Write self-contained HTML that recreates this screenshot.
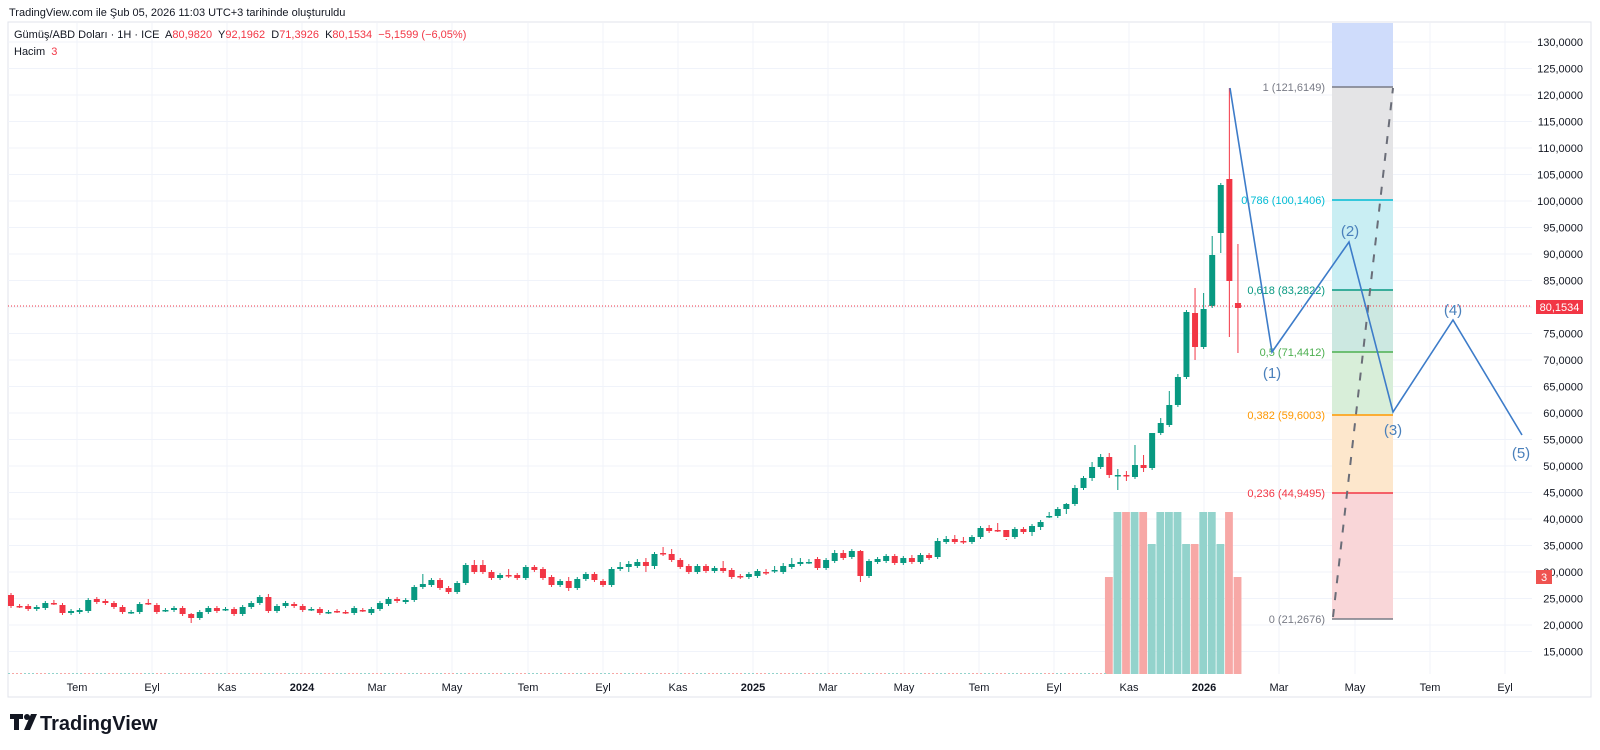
<!DOCTYPE html>
<html><head><meta charset="utf-8"><style>
html,body{margin:0;padding:0;background:#fff;width:1600px;height:750px;overflow:hidden}
svg{display:block;font-family:"Liberation Sans",sans-serif}
.pre{white-space:pre}
</style></head><body>
<svg id="s" width="1600" height="750" viewBox="0 0 1600 750" xmlns="http://www.w3.org/2000/svg">
<rect width="1600" height="750" fill="#fff"/>
<text x="9" y="16" font-size="11" fill="#131722">TradingView.com ile Şub 05, 2026 11:03 UTC+3 tarihinde oluşturuldu</text>
<rect x="8" y="22" width="1583" height="675" fill="#fff" stroke="#e0e3eb"/>
<g id="grid"></g>
<rect x="1332" y="23" width="61" height="64" fill="#cfdcfb"/>
<rect x="1332" y="87" width="61" height="113" fill="#e4e4e6"/>
<rect x="1332" y="200" width="61" height="90" fill="#c9eef3"/>
<rect x="1332" y="290" width="61" height="62" fill="#cce8e1"/>
<rect x="1332" y="352" width="61" height="63" fill="#d8eed9"/>
<rect x="1332" y="415" width="61" height="78" fill="#fde7cc"/>
<rect x="1332" y="493" width="61" height="126" fill="#f9d6d8"/>
<line x1="1332" y1="87" x2="1393" y2="87" stroke="#787b86" stroke-width="1.5"/>
<line x1="1332" y1="200" x2="1393" y2="200" stroke="#00bcd4" stroke-width="1.5"/>
<line x1="1332" y1="290" x2="1393" y2="290" stroke="#089981" stroke-width="1.5"/>
<line x1="1332" y1="352" x2="1393" y2="352" stroke="#4caf50" stroke-width="1.5"/>
<line x1="1332" y1="415" x2="1393" y2="415" stroke="#ff9800" stroke-width="1.5"/>
<line x1="1332" y1="493" x2="1393" y2="493" stroke="#f23645" stroke-width="1.5"/>
<line x1="1332" y1="619" x2="1393" y2="619" stroke="#787b86" stroke-width="1.5"/>
<g font-size="11" text-anchor="end">
<text x="1325" y="91" fill="#787b86">1 (121,6149)</text>
<text x="1325" y="204" fill="#00bcd4">0,786 (100,1406)</text>
<text x="1325" y="294" fill="#089981">0,618 (83,2822)</text>
<text x="1325" y="356" fill="#4caf50">0,5 (71,4412)</text>
<text x="1325" y="419" fill="#ff9800">0,382 (59,6003)</text>
<text x="1325" y="497" fill="#f23645">0,236 (44,9495)</text>
<text x="1325" y="623" fill="#787b86">0 (21,2676)</text>
</g>
<line x1="1333" y1="617" x2="1393" y2="88" stroke="#6a6d78" stroke-width="2" stroke-dasharray="8,9"/>
<g id="vol"></g>
<g id="cdl"></g>
<line x1="8" y1="306" x2="1532" y2="306" stroke="#f23645" stroke-width="1" stroke-dasharray="1,2"/>
<polyline points="1230,88 1272,352 1349,242 1393,412 1453,320 1522,435" fill="none" stroke="#3d7cc9" stroke-width="1.6"/>
<g font-size="15" fill="#4a80bb" text-anchor="middle">
<text x="1272" y="378">(1)</text>
<text x="1350" y="236">(2)</text>
<text x="1393" y="435">(3)</text>
<text x="1453" y="315">(4)</text>
<text x="1521" y="458">(5)</text>
</g>
<g id="axis" font-size="11" fill="#131722"></g>
<rect x="1536" y="300" width="47" height="14" fill="#f23645"/>
<text x="1559.5" y="311" font-size="11" fill="#fff" text-anchor="middle">80,1534</text>
<rect x="1536" y="570" width="16" height="14" fill="#ef5350"/>
<text x="1544" y="581" font-size="11" fill="#fff" text-anchor="middle">3</text>
<text class="pre" x="14" y="38" font-size="11" fill="#131722">Gümüş/ABD Doları · 1H · ICE  A<tspan fill="#f23645">80,9820</tspan>  Y<tspan fill="#f23645">92,1962</tspan>  D<tspan fill="#f23645">71,3926</tspan>  K<tspan fill="#f23645">80,1534</tspan>  <tspan fill="#f23645">−5,1599 (−6,05%)</tspan></text>
<text class="pre" x="14" y="55" font-size="11" fill="#131722">Hacim  <tspan fill="#f23645">3</tspan></text>
<g transform="translate(10,714)">
<path d="M0 0h13v5h-4v11h-5v-11h-4z" fill="#131722"/>
<circle cx="17" cy="3" r="3" fill="#131722"/>
<path d="M21 0h6l-7 16h-6z" fill="#131722"/>
<text x="30" y="16" font-size="20" font-weight="bold" fill="#131722">TradingView</text>
</g>
</svg>
<script>
var NS="http://www.w3.org/2000/svg";
function el(p,t,a){var e=document.createElementNS(NS,t);for(var k in a)e.setAttribute(k,a[k]);p.appendChild(e);return e;}
function Y(p){return 625-(p-20)*5.3;}
var grid=document.getElementById('grid'),axis=document.getElementById('axis');
for(var p=15;p<=130;p+=5){var y=Y(p);el(grid,'line',{x1:8,x2:1532,y1:y,y2:y,stroke:'#f0f3fa'});
var t=el(axis,'text',{x:1583,y:y+4,'text-anchor':'end'});t.textContent=p+',0000';}
var months=[['Tem',77],['Eyl',152],['Kas',227],['2024',302,1],['Mar',377],['May',452],['Tem',528],['Eyl',603],['Kas',678],['2025',753,1],['Mar',828],['May',904],['Tem',979],['Eyl',1054],['Kas',1129],['2026',1204,1],['Mar',1279],['May',1355],['Tem',1430],['Eyl',1505]];
months.forEach(function(m){el(grid,'line',{x1:m[1],x2:m[1],y1:23,y2:674,stroke:'#f0f3fa'});
var t=el(axis,'text',{x:m[1],y:691,'text-anchor':'middle'});if(m[2])t.setAttribute('font-weight','bold');t.textContent=m[0];});
var C=[[595,606,0],[606,606,0],[606,609,0],[607,609,1],[603,608,1],[603,603,0,600],[605,613,0],[611,613,1],[610,612,1],[600,611,1],
[599,602,0],[601,603,0],[603,607,0],[607,612,0],[612,612,1],[604,612,1],[603,603,0,599],[605,612,0],[610,610,1],[608,610,1],
[608,614,0],[614,618,0,613,623],[612,618,1],[608,612,1],[608,611,0],[609,609,1],[609,614,0],[607,614,1],[603,607,1],[597,603,1],
[597,611,0,594],[606,611,1],[603,606,1],[604,606,0],[606,610,0],[609,609,1],[609,613,0],[612,612,1],[611,611,0],[612,612,0],
[608,613,1],[610,610,0],[609,613,1],[603,609,1],[599,604,1],[599,601,0],[600,602,1],[587,600,1],
[584,587,1,574],[580,585,1],[580,588,0],[588,592,0],[583,592,1],[565,583,1],[565,572,0,560],[565,572,0,560],[572,578,0],[575,578,1],
[575,576,0,569],[575,578,0],[567,578,1],[567,570,0],[569,578,0],[577,585,0],[581,585,1],[581,588,0,577,591],[579,588,1],[574,579,1],
[574,580,0],[581,585,0],[569,585,1],[567,569,1,562],[564,567,1,561,572],[562,566,1,559],[562,566,0,558,572],[554,566,1,552,569],[553,554,0,547],[554,560,0,549],
[560,567,0],[566,572,0,564,574],[566,572,1],[566,571,0],[568,571,1],[568,571,0,561],[570,577,0,568,579],[576,577,0],[574,577,1],[571,576,1],
[572,572,0,569,575],[570,570,1,566,573],[566,572,1,563],[564,567,1,558],[562,564,1,558],[562,562,1,559],[559,568,0],[560,568,1],[553,561,1,550],[553,558,0,550],
[551,557,1,549],[551,576,0,550,582],[561,576,1],[559,562,1],[556,561,1],[556,563,0],[558,563,1],[558,562,0,555],[555,562,1],[555,558,0],
[541,557,1,538],[539,542,1,536],[539,542,0,535],[541,541,0,537,544],[537,542,1],[528,537,1],[528,531,0,525],[530,530,0,523],[530,537,0,540],[529,537,1],
[529,532,0,527],[526,532,1,524,536],[522,527,1,520,530],[516,516,1,512,518],[509,516,1,507],[504,509,1,503,514],[488,504,1,485],[478,488,1,476],[467,478,1,462,481],[457,467,1,454],
[457,475,0,453,478],[475,475,1,469,490],[475,475,0,471,481],[465,477,1,445],[465,468,0,455,472],[433,468,1,433],[423,433,1,418],[405,425,1,391,427],[377,405,1,374],[312,377,1,310],
[313,347,0,288,360],[309,347,1,293],[255,306,1,236],[185,233,1,183,253],[179,281,0,88,337],[303,308,0,244,353]];
var cg=document.getElementById('cdl');
C.forEach(function(c,i){var x=11+i*8.58;var col=c[2]?'#089981':'#f23645';
var wt=c[3]!==undefined?c[3]:c[0]-2,wb=c[4]!==undefined?c[4]:c[1]+2;
el(cg,'line',{x1:x,x2:x,y1:wt,y2:wb,stroke:col,'stroke-width':1});
el(cg,'rect',{x:x-3,y:c[0],width:6,height:Math.max(1.5,c[1]-c[0]),fill:col});});
var vg=document.getElementById('vol');
var vc=[0,1,0,1,0,1,1,1,1,1,0,1,1,1,0,0],vt=[577,512,512,512,512,544,512,512,512,544,544,512,512,544,512,577];
for(var k=0;k<16;k++){var x=11+(128+k)*8.58-4.29;el(vg,'rect',{x:x,y:vt[k],width:7.8,height:674-vt[k],fill:vc[k]?'#93d3cc':'#f7a8a6'});}
for(var x=8;x<1105;x+=4){el(vg,'rect',{x:x,y:673,width:2,height:1,fill:(Math.floor(x/12)%2)?'#f7a8a6':'#93d3cc'});}
</script>
</body></html>
